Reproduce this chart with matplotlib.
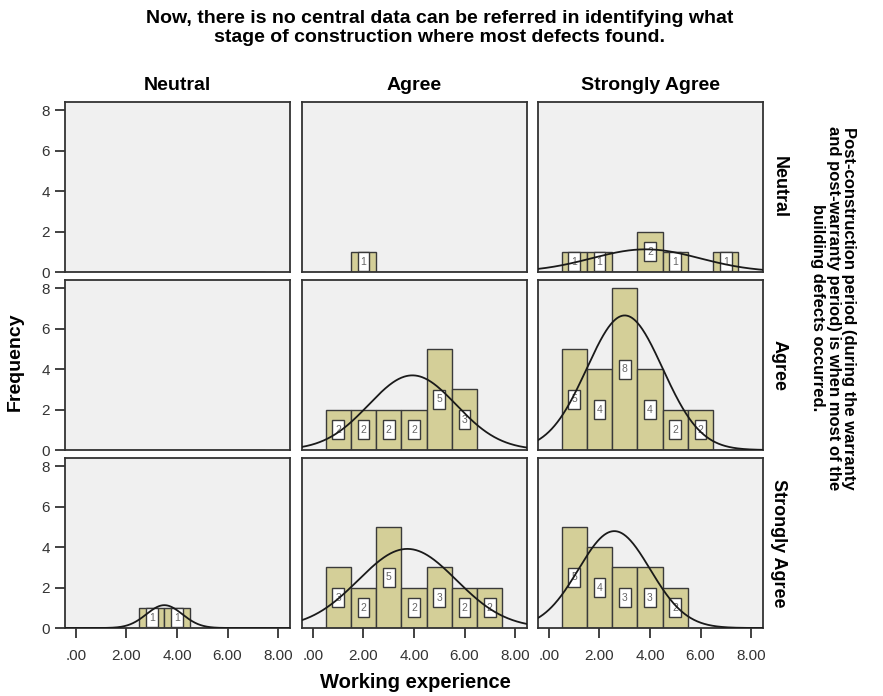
import numpy as np
import matplotlib.pyplot as plt
from matplotlib.patches import Rectangle

plt.rcParams['font.family'] = ['Liberation Sans', 'DejaVu Sans']

# experience values (bin centres) and counts per panel
experience = [1, 2, 3, 4, 5, 6, 7]
col_labels = ["Neutral", "Agree", "Strongly Agree"]
row_labels = ["Neutral", "Agree", "Strongly Agree"]

# rows = post-construction answer, cols = "no central data" answer
neutral_neutral = [0, 0, 0, 0, 0, 0, 0]
neutral_agree = [0, 1, 0, 0, 0, 0, 0]
neutral_sagree = [1, 1, 0, 2, 1, 0, 1]
agree_neutral = [0, 0, 0, 0, 0, 0, 0]
agree_agree = [2, 2, 2, 2, 5, 3, 0]
agree_sagree = [5, 4, 8, 4, 2, 2, 0]
sagree_neutral = [0, 0, 1, 1, 0, 0, 0]
sagree_agree = [3, 2, 5, 2, 3, 2, 2]
sagree_sagree = [5, 4, 3, 3, 2, 0, 0]

grid = [[neutral_neutral, neutral_agree, neutral_sagree],
        [agree_neutral, agree_agree, agree_sagree],
        [sagree_neutral, sagree_agree, sagree_sagree]]

bar_color = '#d4cf98'
edge = '#3a3a3a'

fig = plt.figure(figsize=(8.83, 6.96), dpi=100)
W, H = 883, 696
lefts = [65, 302, 538]
tops = [102, 280, 458]
pw, ph = 225, 170

xs = np.linspace(-0.45, 8.5, 400)
for r in range(3):
    for c in range(3):
        ax = fig.add_axes([lefts[c] / W, 1 - (tops[r] + ph) / H, pw / W, ph / H])
        ax.set_facecolor('#f0f0f0')
        for s in ax.spines.values():
            s.set_color('#333333')
            s.set_linewidth(1.3)
        counts = grid[r][c]
        ax.bar(experience, counts, width=1.0, color=bar_color, edgecolor=edge, linewidth=1.0)
        for x, n in zip(experience, counts):
            if n > 0:
                ax.add_patch(Rectangle((x - 0.23, n / 2 - 0.47), 0.46, 0.94,
                                       facecolor='white', edgecolor=edge, linewidth=1.0, zorder=3))
                ax.text(x, n / 2, str(n), ha='center', va='center', fontsize=7.5,
                        color='#666666', zorder=4)
        data = np.repeat(experience, counts)
        if len(data) > 1:
            m = data.mean()
            sd = data.std(ddof=1)
            y = len(data) / (sd * np.sqrt(2 * np.pi)) * np.exp(-0.5 * ((xs - m) / sd) ** 2)
            ax.plot(xs, y, color='#1a1a1a', linewidth=1.3, zorder=5)
        ax.set_xlim(-0.43, 8.47)
        ax.set_ylim(0, 8.4)
        ax.set_xticks([0, 2, 4, 6, 8])
        ax.set_yticks([0, 2, 4, 6, 8])
        ax.tick_params(length=7, width=1.3, color='#333333', labelsize=11,
                       labelcolor='#333333')
        ax.tick_params(axis='x', pad=8)
        ax.tick_params(axis='y', pad=4)
        if r == 2:
            ax.set_xticklabels(['.00', '2.00', '4.00', '6.00', '8.00'])
        else:
            ax.tick_params(axis='x', bottom=False, labelbottom=False)
        if c != 0:
            ax.tick_params(axis='y', left=False, labelleft=False)
        if r == 0:
            ax.text(0.5, 1.1, col_labels[c], transform=ax.transAxes, ha='center',
                    va='center', fontsize=14, fontweight='bold')
        if c == 2:
            ax.text(1.07, 0.5, row_labels[r], transform=ax.transAxes, ha='center',
                    va='center', rotation=-90, fontsize=13, fontweight='bold')

fig.text(440 / W, 1 - 28 / H,
         "Now, there is no central data can be referred in identifying what\n"
         "stage of construction where most defects found.",
         ha='center', va='center', fontsize=14, fontweight='bold', linespacing=1.1)
fig.text(415 / W, 1 - 683 / H, "Working experience", ha='center', va='center',
         fontsize=14.5, fontweight='bold')
fig.text(15 / W, 1 - 362 / H, "Frequency", ha='center', va='center', rotation=90,
         fontsize=14, fontweight='bold')
fig.text(833 / W, 1 - 308 / H,
         "Post-construction period (during the warranty\n"
         "and post-warranty period) is when most of the\n"
         "building defects occurred.",
         ha='center', va='center', rotation=-90, fontsize=12, fontweight='bold',
         linespacing=1.05)

fig.savefig('out.png', dpi=100)
